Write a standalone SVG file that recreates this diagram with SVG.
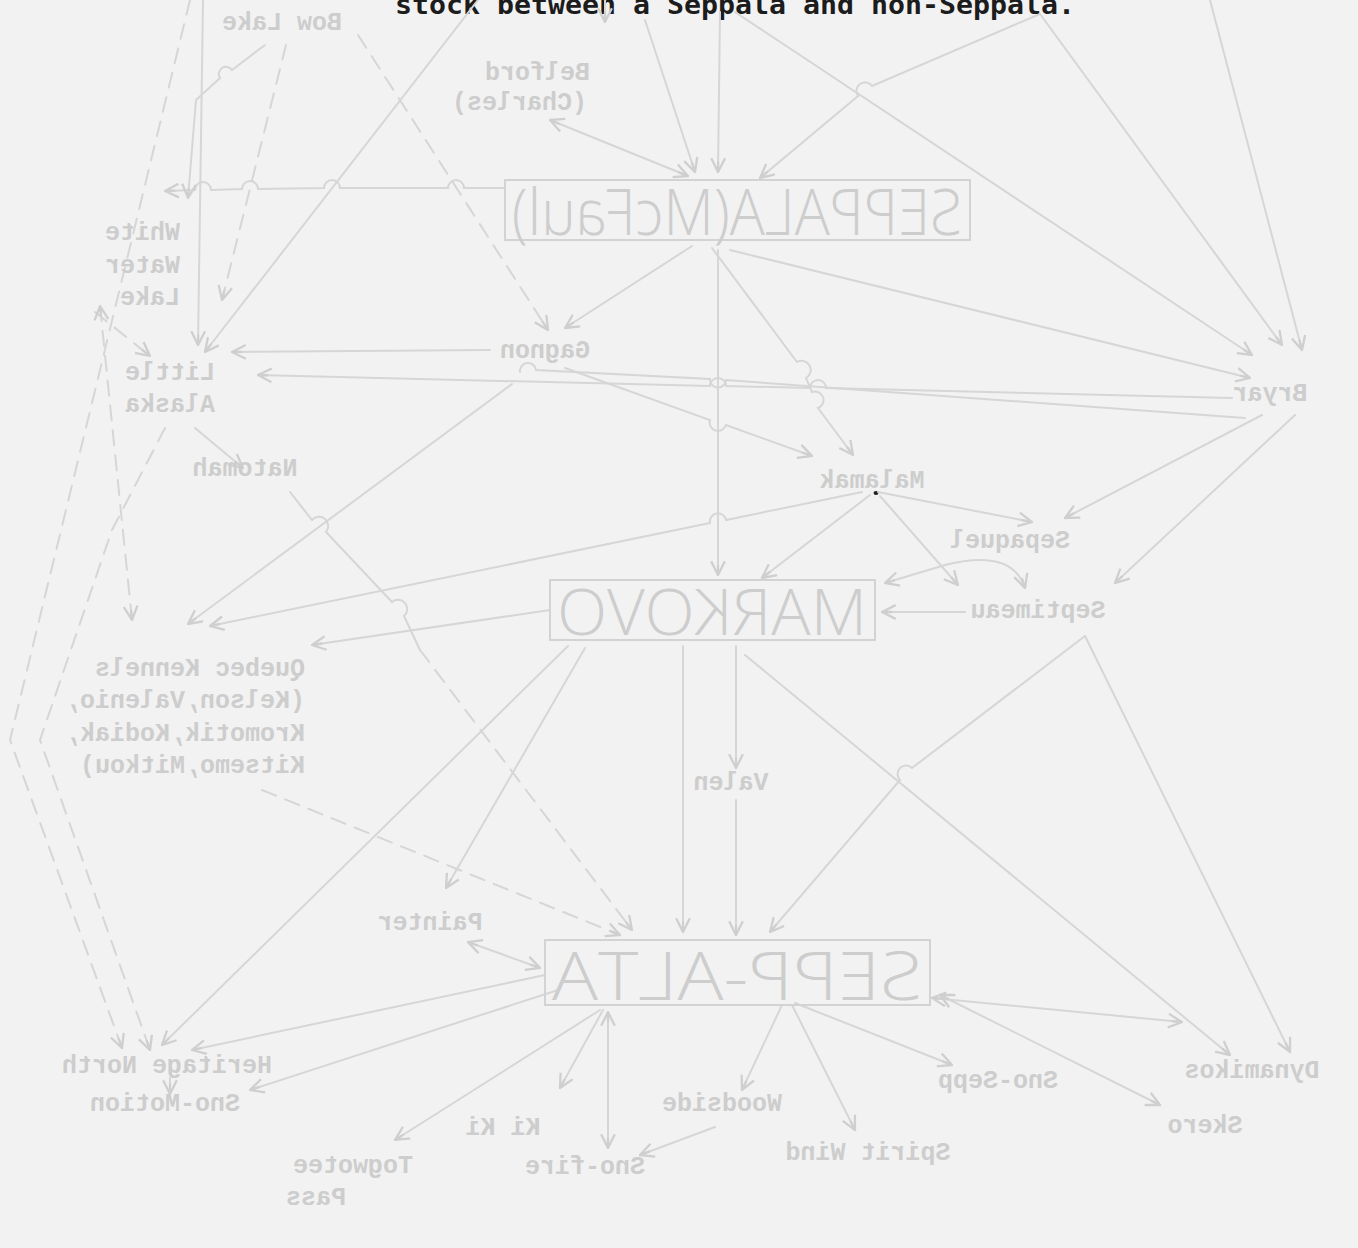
<svg xmlns="http://www.w3.org/2000/svg" width="1358" height="1248" viewBox="0 0 1358 1248">
<defs>
<style>
.c{stroke:#d6d6d6;stroke-width:2;fill:none;stroke-linecap:round}
.d{stroke-dasharray:15 10}
.a{marker-end:url(#ah)}
.b{marker-start:url(#ah);marker-end:url(#ah)}
.t{font-family:"Liberation Mono","DejaVu Sans Mono",monospace;font-size:25px;font-weight:bold;fill:#cdcdcd}
.big{font-family:"Open Sans","Liberation Sans",sans-serif;font-weight:300;fill:#cdcdcd}
.box{fill:none;stroke:#d3d3d3;stroke-width:2}
</style>
<marker id="ah" viewBox="0 0 14 14" refX="13" refY="7" markerWidth="16" markerHeight="16" markerUnits="userSpaceOnUse" orient="auto-start-reverse">
<path d="M1,1 L13,7 L1,13 M4,7 L13,7" fill="none" stroke="#cfcfcf" stroke-width="2"/>
</marker>
</defs>
<rect width="1358" height="1248" fill="#f2f2f2"/>

<g id="caption">
<text x="395" y="14" font-family="'DejaVu Sans Mono','Liberation Mono',monospace" font-weight="bold" font-size="27" fill="#1c1c1c" textLength="680" lengthAdjust="spacingAndGlyphs">stock between a Seppala and non-Seppala.</text>
<ellipse cx="876" cy="493" rx="2.5" ry="2" fill="#222"/>
</g>

<g id="connectors">
<path class="c d a" d="M286,45 L222,300"/>
<path class="c d a" d="M358,35 L548,330"/>
<path class="c a" d="M203,0 L198,345"/>
<path class="c a" d="M478,0 L205,352"/>
<path class="c a" d="M505,188 L464,188 A8,8 0 0 0 448,188 L340,188 A8,8 0 0 0 324,188 L258,189 A8,8 0 0 0 242,189 L211,190 A8,8 0 0 0 195,190 L165,191"/>
<path class="c a" d="M265,45 L232,70 A7,7 0 0 0 220,78 L196,100 L188,198"/>
<path class="c b" d="M550,120 L688,176"/>
<path class="c a" d="M605,0 L605,22"/>
<path class="c a" d="M645,20 L695,172"/>
<path class="c a" d="M720,12 L718,172"/>
<path class="c a" d="M1040,14 L872,86 A8,8 0 0 0 858,96 L760,178"/>
<path class="c a" d="M735,12 L1252,355"/>
<path class="c a" d="M1040,14 L1282,345"/>
<path class="c a" d="M1210,0 L1302,350"/>
<path class="c a" d="M692,246 L565,328"/>
<path class="c a" d="M712,248 L797,362 A8,8 0 0 1 806,378 L812,392 A8,8 0 0 1 818,408 L853,455"/>
<path class="c a" d="M718,250 L718,575"/>
<path class="c a" d="M730,250 L1250,378"/>
<path class="c a" d="M490,350 L232,352"/>
<path class="c a" d="M1232,398 L826,388 A8,8 0 0 0 810,388 L726,386 A8,8 0 0 0 710,386 L258,375"/>
<path class="c" d="M520,372 A8,8 0 0 1 536,370 L710,379 A8,8 0 0 0 726,380 L1245,418"/>
<path class="c a" d="M565,368 L710,420 A8,8 0 0 0 726,425 L812,456"/>
<path class="c a" d="M1262,415 L1065,518"/>
<path class="c a" d="M1295,415 L1115,583"/>
<path class="c a" d="M878,492 L1032,522"/>
<path class="c a" d="M870,495 L762,578"/>
<path class="c a" d="M880,496 L958,585"/>
<path class="c a" d="M945,565 Q1012,548 1025,588"/>
<path class="c a" d="M945,565 L885,583"/>
<path class="c a" d="M965,612 L882,612"/>
<path class="c a" d="M862,492 L726,520 A8,8 0 0 0 710,523 L210,626"/>
<path class="c a" d="M512,384 L188,624"/>
<path class="c a" d="M550,610 L312,645"/>
<path class="c" d="M290,492 L312,520 A8,8 0 0 1 326,532 L392,602 A8,8 0 0 1 404,616 L420,650"/>
<path class="c d a" d="M420,650 L632,930"/>
<path class="c d a" d="M262,790 L620,935"/>
<path class="c a" d="M568,646 L162,1045"/>
<path class="c a" d="M585,648 L446,888"/>
<path class="c a" d="M683,646 L683,932"/>
<path class="c a" d="M736,646 L736,768"/>
<path class="c a" d="M736,800 L736,935"/>
<path class="c a" d="M745,655 L1230,1055"/>
<path class="c a" d="M1085,636 L1290,1052"/>
<path class="c a" d="M1085,636 L912,768 A8,8 0 0 0 900,780 L770,932"/>
<path class="c b" d="M468,942 L540,968"/>
<path class="c a" d="M545,975 L192,1050"/>
<path class="c a" d="M558,990 L250,1090"/>
<path class="c a" d="M170,1078 L170,1094"/>
<path class="c a" d="M600,1010 L395,1140"/>
<path class="c a" d="M603,1010 L560,1088"/>
<path class="c b" d="M608,1012 L608,1148"/>
<path class="c a" d="M715,1127 L640,1155"/>
<path class="c a" d="M782,1005 L742,1090"/>
<path class="c a" d="M792,1005 L855,1130"/>
<path class="c a" d="M795,1003 L952,1065"/>
<path class="c b" d="M932,998 L1182,1022"/>
<path class="c b" d="M940,995 L1160,1105"/>
<path class="c d a" d="M95,312 L150,356"/>
<path class="c d a" d="M190,0 L10,740 L122,1048"/>
<path class="c d a" d="M165,428 L112,530 L40,740 L150,1050"/>
<path class="c d b" d="M100,306 L132,620"/>
<path class="c a" d="M195,428 L243,468"/>
</g>

<g id="n-bowlake"><text class="t" transform="scale(-1,1)" x="-282" y="30" text-anchor="middle">Bow Lake</text></g>
<g id="n-belford" class="t"><text transform="scale(-1,1)" x="-590" y="80">Belford</text><text transform="scale(-1,1)" x="-587" y="110">(Charles)</text></g>
<g id="n-seppala"><rect class="box" x="505" y="180" width="465" height="60"/><text class="big" transform="scale(-1,1)" x="-737" y="235" font-size="64" text-anchor="middle" textLength="450" lengthAdjust="spacingAndGlyphs">SEPPALA(McFaul)</text></g>
<g id="n-whitewater" class="t"><text transform="scale(-1,1)" x="-180" y="240">White</text><text transform="scale(-1,1)" x="-180" y="273">Water</text><text transform="scale(-1,1)" x="-180" y="305">Lake</text></g>
<g id="n-littlealaska" class="t"><text transform="scale(-1,1)" x="-215" y="380">Little</text><text transform="scale(-1,1)" x="-215" y="412">Alaska</text></g>
<g id="n-gagnon"><text class="t" transform="scale(-1,1)" x="-545" y="358" text-anchor="middle">Gagnon</text></g>
<g id="n-bryar"><text class="t" transform="scale(-1,1)" x="-1270" y="401" text-anchor="middle">Bryar</text></g>
<g id="n-natomah"><text class="t" transform="scale(-1,1)" x="-245" y="476" text-anchor="middle">Natomah</text></g>
<g id="n-malamak"><text class="t" transform="scale(-1,1)" x="-872" y="488" text-anchor="middle">Malamak</text></g>
<g id="n-sepaquel"><text class="t" transform="scale(-1,1)" x="-1010" y="548" text-anchor="middle">Sepaquel</text></g>
<g id="n-markovo"><rect class="box" x="550" y="580" width="325" height="60"/><text class="big" transform="scale(-1,1)" x="-712" y="635" font-size="64" text-anchor="middle" textLength="310" lengthAdjust="spacingAndGlyphs">MARKOVO</text></g>
<g id="n-septimeau"><text class="t" transform="scale(-1,1)" x="-1038" y="618" text-anchor="middle">Septimeau</text></g>
<g id="n-quebec" class="t"><text transform="scale(-1,1)" x="-305" y="676">Quebec Kennels</text><text transform="scale(-1,1)" x="-305" y="708">(Kelson,Valenio,</text><text transform="scale(-1,1)" x="-305" y="741">Kromotik,Kodiak,</text><text transform="scale(-1,1)" x="-305" y="773">Kitsemo,Mitkou)</text></g>
<g id="n-valen"><text class="t" transform="scale(-1,1)" x="-731" y="790" text-anchor="middle">Valen</text></g>
<g id="n-painter"><text class="t" transform="scale(-1,1)" x="-430" y="930" text-anchor="middle">Painter</text></g>
<g id="n-seppalta"><rect class="box" x="545" y="940" width="385" height="65"/><text class="big" transform="scale(-1,1)" x="-737" y="1000" font-size="66" text-anchor="middle" textLength="370" lengthAdjust="spacingAndGlyphs">SEPP-ALTA</text></g>
<g id="n-heritage"><text class="t" transform="scale(-1,1)" x="-167" y="1073" text-anchor="middle">Heritage North</text></g>
<g id="n-dynamikos"><text class="t" transform="scale(-1,1)" x="-1252" y="1078" text-anchor="middle">Dynamikos</text></g>
<g id="n-snomotion"><text class="t" transform="scale(-1,1)" x="-165" y="1111" text-anchor="middle">Sno-Motion</text></g>
<g id="n-snosepp"><text class="t" transform="scale(-1,1)" x="-998" y="1088" text-anchor="middle">Sno-Sepp</text></g>
<g id="n-woodside"><text class="t" transform="scale(-1,1)" x="-722" y="1111" text-anchor="middle">Woodside</text></g>
<g id="n-kiki"><text class="t" transform="scale(-1,1)" x="-503" y="1135" text-anchor="middle">Ki Ki</text></g>
<g id="n-skero"><text class="t" transform="scale(-1,1)" x="-1205" y="1133" text-anchor="middle">Skero</text></g>
<g id="n-spiritwind"><text class="t" transform="scale(-1,1)" x="-868" y="1160" text-anchor="middle">Spirit Wind</text></g>
<g id="n-snofire"><text class="t" transform="scale(-1,1)" x="-585" y="1174" text-anchor="middle">Sno-fire</text></g>
<g id="n-togwotee" class="t"><text transform="scale(-1,1)" x="-413" y="1173">Togwotee</text><text transform="scale(-1,1)" x="-346" y="1205">Pass</text></g>
</svg>
